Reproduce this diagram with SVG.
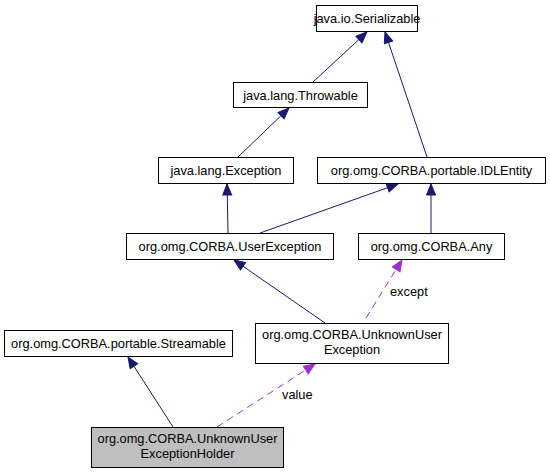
<svg xmlns="http://www.w3.org/2000/svg" width="550" height="473" viewBox="0 0 550 473">
<style>
.n rect{fill:#fff;stroke:#000;stroke-width:1}
.n text{font-family:"Liberation Sans",Arial,sans-serif;font-size:12.8px;text-anchor:middle;fill:#000}
.e{fill:none;stroke:#191970;stroke-width:1}
.d{fill:none;stroke:#9a32cd;stroke-width:1;stroke-dasharray:7,5}
.l{font-family:"Liberation Sans",Arial,sans-serif;font-size:12.8px;fill:#000}
</style>
<defs>
<marker id="ab" markerUnits="userSpaceOnUse" markerWidth="14" markerHeight="12" refX="12" refY="5" orient="auto" viewBox="0 0 14 12">
<path d="M1,0.5 L12,5 L1,9.5 Z" fill="#191970" stroke="#191970"/>
</marker>
<marker id="ap" markerUnits="userSpaceOnUse" markerWidth="14" markerHeight="12" refX="12" refY="5" orient="auto" viewBox="0 0 14 12">
<path d="M1,0.5 L12,5 L1,9.5 Z" fill="#9a32cd" stroke="#9a32cd"/>
</marker>
</defs>
<g id="edges">
<path class="e" d="M313,82 L367,32" marker-end="url(#ab)"/>
<path class="e" d="M427,157 L385,32" marker-end="url(#ab)"/>
<path class="e" d="M238,157 L289,108" marker-end="url(#ab)"/>
<path class="e" d="M228,233 L227,184" marker-end="url(#ab)"/>
<path class="e" d="M260,233 L398,184" marker-end="url(#ab)"/>
<path class="e" d="M431,233 L431,184" marker-end="url(#ab)"/>
<path class="e" d="M325,323 L234,260" marker-end="url(#ab)"/>
<path class="d" d="M366,318 L402,260" marker-end="url(#ap)"/>
<text class="l" x="390" y="296">except</text>
<path class="e" d="M173,427 L128,357" marker-end="url(#ab)"/>
<path class="d" d="M217,427 L315,364" marker-end="url(#ap)"/>
<text class="l" x="282" y="399">value</text>
</g>
<g id="serializable" class="n"><rect x="316.5" y="5.5" width="101" height="26"/><text x="367" y="23">java.io.Serializable</text></g>
<g id="throwable" class="n"><rect x="233.5" y="82.5" width="134" height="25"/><text x="300.5" y="99.5">java.lang.Throwable</text></g>
<g id="exception" class="n"><rect x="158.5" y="157.5" width="135" height="26"/><text x="226" y="175">java.lang.Exception</text></g>
<g id="idlentity" class="n"><rect x="317.5" y="157.5" width="228" height="26"/><text x="431.5" y="175">org.omg.CORBA.portable.IDLEntity</text></g>
<g id="userexception" class="n"><rect x="126.5" y="233.5" width="207" height="26"/><text x="230" y="251">org.omg.CORBA.UserException</text></g>
<g id="any" class="n"><rect x="358.5" y="233.5" width="146" height="26"/><text x="431.5" y="251">org.omg.CORBA.Any</text></g>
<g id="streamable" class="n"><rect x="4.5" y="330.5" width="228" height="26"/><text x="118.5" y="348">org.omg.CORBA.portable.Streamable</text></g>
<g id="unknownuserexception" class="n"><rect x="255.5" y="323.5" width="193" height="40"/><text x="352" y="339">org.omg.CORBA.UnknownUser</text><text x="352" y="354">Exception</text></g>
<g id="holder" class="n"><rect x="91.5" y="427.5" width="192" height="40" style="fill:#bfbfbf"/><text x="187.5" y="443">org.omg.CORBA.UnknownUser</text><text x="187.5" y="458">ExceptionHolder</text></g>
</svg>
